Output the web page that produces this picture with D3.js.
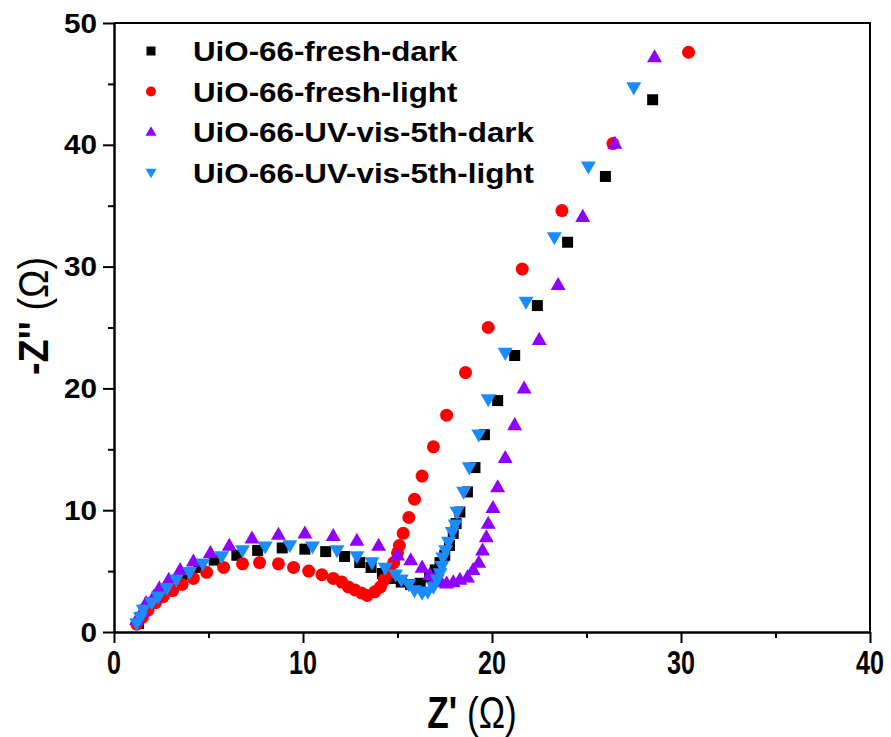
<!DOCTYPE html>
<html>
<head>
<meta charset="utf-8">
<script src="https://cdn.jsdelivr.net/npm/d3@7"></script>
<style>
  body { margin: 0; background: #fff; }
  text { font-family: "Liberation Sans", Arial, sans-serif; }
</style>
</head>
<body>
<div id="chart"></div>
<script>
'use strict';

// series: [Z', -Z'']
var freshDark = [[1.3,0.7],[1.4,1.2],[1.6,1.8],[1.9,2.4],[2.3,2.9],[2.7,3.5],[3.2,4.1],[3.8,4.7],[4.5,5.3],
    [5.3,5.9],[6.5,6.3],[7.6,6.7],[8.9,6.9],[10.1,6.8],[11.2,6.6],[12.2,6.2],[13.0,5.7],[13.6,5.3],
    [14.2,4.8],[14.8,4.4],[15.2,4.1],[15.7,3.9],[16.2,4.0],[16.7,4.5],[17.0,5.1],[17.25,5.7],[17.5,6.3],
    [17.75,7.1],[17.95,8.1],[18.1,8.9],[18.3,9.85],[18.7,11.5],[19.1,13.5],[19.6,16.2],[20.3,19.0],
    [21.2,22.7],[22.4,26.8],[24.0,32.0],[26.0,37.4],[28.5,43.7]];

var freshLight = [[1.2,0.65],[1.5,1.2],[1.8,1.8],[2.2,2.4],[2.6,2.9],[3.1,3.4],[3.6,3.9],[4.2,4.4],[4.9,4.9],
    [5.8,5.3],[6.8,5.6],[7.7,5.7],[8.7,5.6],[9.5,5.3],[10.3,5.0],[11.0,4.7],[11.6,4.4],[12.05,4.1],
    [12.4,3.7],[12.75,3.45],[13.1,3.2],[13.4,3.0],[13.8,3.3],[14.1,3.7],[14.3,4.3],[14.6,4.9],[14.8,5.7],
    [15.0,6.5],[15.1,7.1],[15.3,8.1],[15.6,9.4],[15.9,10.9],[16.3,12.8],[16.9,15.2],[17.6,17.8],
    [18.6,21.3],[19.8,25.0],[21.6,29.8],[23.7,34.6],[26.4,40.1],[30.4,47.6]];

var uvDark = [[1.2,1.0],[1.5,1.7],[1.7,2.4],[2.1,2.9],[2.4,3.6],[2.9,4.3],[3.5,5.1],[4.2,5.8],[5.1,6.5],
    [6.1,7.1],[7.3,7.7],[8.7,8.0],[10.1,8.1],[11.6,7.9],[12.85,7.5],[14.0,7.1],[15.0,6.3],[15.7,5.9],
    [16.3,5.3],[16.7,4.7],[17.0,4.4],[17.3,4.1],[17.6,4.0],[17.95,4.1],[18.3,4.3],[18.7,4.5],[19.0,5.1],
    [19.3,5.7],[19.5,6.7],[19.7,7.8],[19.8,8.9],[20.05,10.2],[20.3,11.9],[20.7,14.3],[21.2,17.0],
    [21.7,20.0],[22.5,24.0],[23.5,28.5],[24.8,34.1],[26.5,40.1],[28.6,47.2]];

var uvLight = [[1.2,0.7],[1.4,1.2],[1.55,1.8],[2.0,2.4],[2.35,2.9],[2.8,3.6],[3.3,4.3],[4.0,4.9],[4.7,5.6],
    [5.7,6.2],[6.8,6.7],[8.0,7.0],[9.3,7.1],[10.5,7.0],[11.8,6.7],[12.85,6.2],[13.65,5.7],[14.35,5.25],
    [14.9,4.7],[15.2,4.3],[15.6,3.9],[15.9,3.4],[16.3,3.2],[16.6,3.3],[16.9,3.7],[17.1,4.3],[17.25,4.8],
    [17.35,5.4],[17.4,6.1],[17.55,6.7],[17.7,7.4],[17.9,8.2],[18.05,8.8],[18.15,9.85],[18.5,11.5],
    [18.8,13.5],[19.3,16.2],[19.8,19.1],[20.7,22.9],[21.8,27.1],[23.3,32.4],[25.1,38.2],[27.5,44.7]];

var seriesNames = ['UiO-66-fresh-dark', 'UiO-66-fresh-light', 'UiO-66-UV-vis-5th-dark', 'UiO-66-UV-vis-5th-light'];
var seriesData = [freshDark, freshLight, uvDark, uvLight];
var seriesColors = ['#000000', '#ff0000', '#8f00ff', '#1a8cff'];
var seriesShapes = ['square', 'circle', 'up', 'down'];

var xMajor = [0, 10, 20, 30, 40];
var xMinor = [5, 15, 25, 35];
var yMajor = [0, 10, 20, 30, 40, 50];
var yMinor = [5, 15, 25, 35, 45];

var width = 891, height = 737;
var plotLeft = 114, plotRight = 870, plotTop = 23, plotBottom = 632;

var x = d3.scaleLinear().domain([0, 40]).range([plotLeft, plotRight]);
var y = d3.scaleLinear().domain([0, 50]).range([plotBottom, plotTop]);

var svg = d3.select('#chart').append('svg')
    .attr('width', width)
    .attr('height', height)
    .style('background', '#fff');

// marker path for a shape, centred on 0,0
function markerPath(shape, s) {
    var p = d3.path();
    if (shape === 'square') {
        p.rect(-s / 2, -s / 2, s, s);
    } else if (shape === 'circle') {
        p.arc(0, 0, s / 2, 0, 2 * Math.PI);
    } else if (shape === 'up') {
        var h = s * 0.87;
        p.moveTo(0, -h * 0.6); p.lineTo(s / 2, h * 0.4); p.lineTo(-s / 2, h * 0.4); p.closePath();
    } else {
        var h2 = s * 0.87;
        p.moveTo(0, h2 * 0.6); p.lineTo(s / 2, -h2 * 0.4); p.lineTo(-s / 2, -h2 * 0.4); p.closePath();
    }
    return p.toString();
}
var markerSize = {square: 11, circle: 13, up: 15, down: 15};
var legendSize = {square: 9, circle: 10, up: 11, down: 11};

// points
seriesData.forEach(function(data, i) {
    var shape = seriesShapes[i];
    svg.append('g')
        .selectAll('path')
        .data(data)
        .enter().append('path')
        .attr('transform', function(d) { return 'translate(' + x(d[0]) + ',' + y(d[1]) + ')'; })
        .attr('d', markerPath(shape, markerSize[shape]))
        .attr('fill', seriesColors[i]);
});

// axes
var xAxis = svg.append('g')
    .attr('transform', 'translate(0,' + plotBottom + ')')
    .call(d3.axisBottom(x).tickValues(xMajor).tickSize(11).tickSizeOuter(0).tickFormat(''));
xAxis.append('g').call(d3.axisBottom(x).tickValues(xMinor).tickSize(6).tickSizeOuter(0).tickFormat(''));

var yAxis = svg.append('g')
    .attr('transform', 'translate(' + plotLeft + ',0)')
    .call(d3.axisLeft(y).tickValues(yMajor).tickSize(11).tickSizeOuter(0).tickFormat(''));
yAxis.append('g').call(d3.axisLeft(y).tickValues(yMinor).tickSize(6).tickSizeOuter(0).tickFormat(''));

svg.selectAll('.domain, .tick line').attr('stroke', '#000').attr('stroke-width', 2);

// frame top and right
svg.append('path')
    .attr('d', 'M' + plotLeft + ',' + plotTop + 'H' + plotRight + 'V' + plotBottom)
    .attr('fill', 'none')
    .attr('stroke', '#000')
    .attr('stroke-width', 2);

// stretched text helper
function label(sel, str, tx, ty, size, sx, anchor, weight) {
    return sel.append('text')
        .attr('transform', 'translate(' + tx + ',' + ty + ') scale(' + sx + ',1)')
        .attr('text-anchor', anchor)
        .style('font-size', size + 'px')
        .style('font-weight', weight || 'bold')
        .text(str);
}

// tick labels
xMajor.forEach(function(v) {
    label(svg, v, x(v), 674, 34, 0.74, 'middle');
});
yMajor.forEach(function(v) {
    label(svg, v, 97, y(v) + 9.5, 27, 1.1, 'end');
});

// axis titles
var xt = svg.append('text')
    .attr('transform', 'translate(472,728) scale(0.8,1)')
    .attr('text-anchor', 'middle')
    .style('font-size', '44px');
xt.append('tspan').style('font-weight', 'bold').text("Z' ");
xt.append('tspan').text('(\u03a9)');

var yt = svg.append('text')
    .attr('transform', 'translate(48,316) rotate(-90) scale(1,1.12)')
    .attr('text-anchor', 'middle')
    .style('font-size', '38px');
yt.append('tspan').style('font-weight', 'bold').text("-Z'' ");
yt.append('tspan').text('(\u03a9)');

// legend
var legend = svg.append('g');
seriesNames.forEach(function(name, i) {
    var cy = 51 + i * 40.5;
    var shape = seriesShapes[i];
    legend.append('path')
        .attr('transform', 'translate(151,' + cy + ')')
        .attr('d', markerPath(shape, legendSize[shape]))
        .attr('fill', seriesColors[i]);
    label(legend, name, 193, cy + 10, 27, 1.16, 'start');
});
</script>
</body>
</html>
